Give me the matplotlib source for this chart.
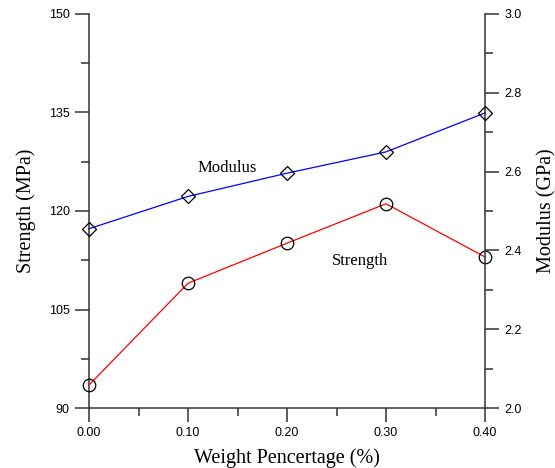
import matplotlib
matplotlib.use('Agg')
import matplotlib.pyplot as plt
from matplotlib.ticker import MultipleLocator

weight = [0.00, 0.10, 0.20, 0.30, 0.40]
strength = [93.5, 109.0, 115.1, 121.1, 113.0]
modulus = [2.455, 2.537, 2.596, 2.650, 2.749]

serif = 'Liberation Serif'
sans = 'Liberation Sans'

fig = plt.figure(figsize=(5.55, 4.68), dpi=100)
ax1 = fig.add_axes([0.1604, 0.1282, 0.7135, 0.8419])
ax2 = ax1.twinx()

ax1.plot(weight, strength, color='red', lw=0.9, marker='o', ms=9,
         mfc='none', mec='black', mew=0.9, clip_on=False, zorder=3)
ax2.plot(weight, modulus, color='blue', lw=0.9, marker='D', ms=7,
         mfc='none', mec='black', mew=0.9, clip_on=False, zorder=3)

ax1.set_xlim(0, 0.4)
ax1.set_ylim(90, 150)
ax2.set_ylim(2.0, 3.0)

ax1.xaxis.set_major_locator(MultipleLocator(0.1))
ax1.xaxis.set_minor_locator(MultipleLocator(0.05))
ax1.yaxis.set_major_locator(MultipleLocator(15))
ax1.yaxis.set_minor_locator(MultipleLocator(7.5))
ax2.yaxis.set_major_locator(MultipleLocator(0.2))
ax2.yaxis.set_minor_locator(MultipleLocator(0.1))

ax1.set_xticks(weight)
ax1.set_xticklabels(['%.2f' % w for w in weight])
ax1.set_yticklabels(['%d' % v for v in ax1.get_yticks()])
ax2.set_yticklabels(['%.1f' % v for v in ax2.get_yticks()])

for ax in (ax1, ax2):
    ax.spines['top'].set_visible(False)
    for s in ax.spines.values():
        s.set_color('#333333')
        s.set_linewidth(1.1)
    ax.tick_params(which='major', direction='out', length=10, width=1.1,
                   color='#333333', labelsize=9, pad=4)
    ax.tick_params(which='minor', direction='out', length=6, width=1.1,
                   color='#333333')
    for lab in ax.get_xticklabels() + ax.get_yticklabels():
        lab.set_fontfamily(sans)
ax2.spines['left'].set_visible(False)
ax2.spines['bottom'].set_visible(False)
ax1.spines['right'].set_visible(False)

ax1.set_xlabel('Weight Pencertage (%)', fontfamily=serif, fontsize=14.5, labelpad=6)
ax1.set_ylabel('Strength (MPa)', fontfamily=serif, fontsize=14.5, labelpad=9)
ax2.set_ylabel('Modulus (GPa)', fontfamily=serif, fontsize=14.5, labelpad=11)

ax1.text(0.14, 2.609, 'Modulus', transform=ax2.transData, fontfamily=serif,
         fontsize=12, ha='center', va='center')
ax1.text(0.2737, 112.4, 'Strength', fontfamily=serif, fontsize=12,
         ha='center', va='center')

fig.savefig('out.png', dpi=100)
